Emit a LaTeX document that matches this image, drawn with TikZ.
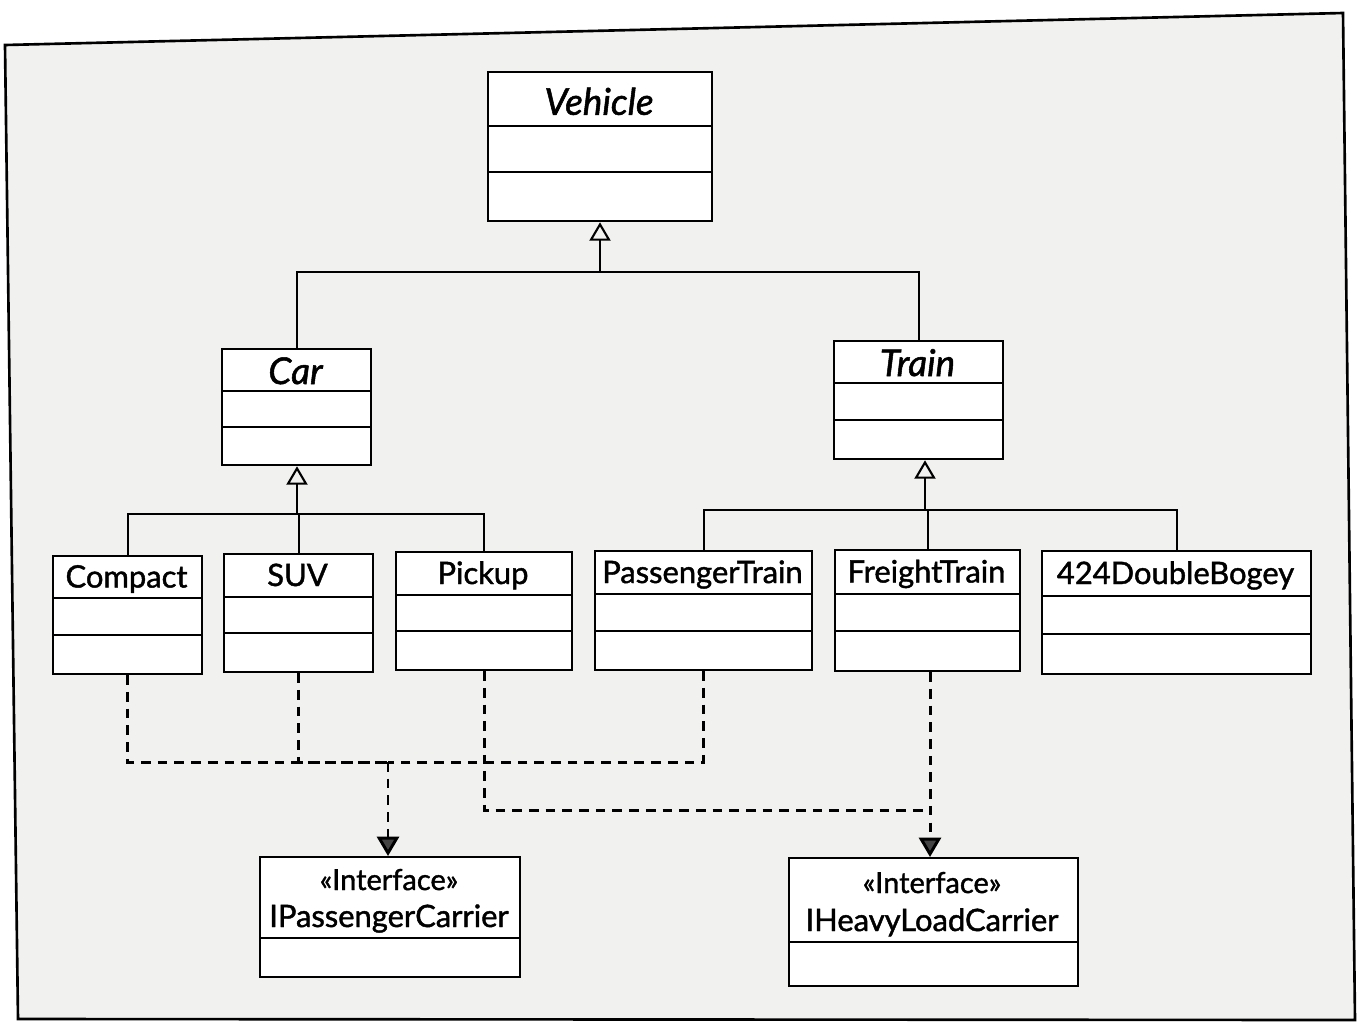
\documentclass[tikz,border=0pt]{standalone}
\usepackage{fontspec}
\setmainfont{Lato}
\newfontfamily\umlfont{Lato}[FakeBold=1.4]
\usetikzlibrary{positioning, arrows.meta, calc}
\definecolor{paperGray}{RGB}{241,241,239}
\definecolor{tipGray}{RGB}{68,68,68}

% class box: name, left, top, right, bottom, divider 1, divider 2, title
\newcommand{\umlClass}[8]{%
  \node[umlbox, anchor=north west, minimum width={(#4-#2)*0.02cm}, minimum height={(#5-#3)*0.02cm}] (#1) at (#2,#3) {};
  \draw[divider] (#2,#6) -- (#4,#6);
  \draw[divider] (#2,#7) -- (#4,#7);
  \node[classname, anchor=base] (#1Name) at ({(#2+#4)/2},{(#3+#6)/2+11}) {#8};}
\newcommand{\abstractFont}{\umlfont\itshape\fontsize{21}{25}\selectfont}

\begin{document}
\begin{tikzpicture}[x=0.02cm, y=-0.02cm,
    umlbox/.style={draw, line width=1.3pt, fill=white, inner sep=0pt},
    divider/.style={line width=1.3pt},
    classname/.style={font=\umlfont\fontsize{17.6}{21}\selectfont, inner sep=0pt},
    genline/.style={line width=1.2pt},
    gen/.style={genline, -{Triangle[open, length=10.5pt, width=12pt]}},
    realline/.style={line width=1.7pt, dash pattern=on 5.5pt off 4pt},
    real/.style={realline, -{Triangle[length=11pt, width=12.5pt, fill=tipGray]}}]
    \useasboundingbox (0,0) rectangle (1366,1022);
    \draw[line width=1.5pt, fill=paperGray] (5,45) -- (1343,13) -- (1355,1020) -- (18,1019) -- cycle;

    % classes
    \umlClass{vehicle}{487}{71}{711}{220}{126}{172}{\abstractFont\raisebox{-3pt}{Vehicle}}
    \umlClass{car}{221}{348}{370}{464}{391}{427}{\abstractFont\raisebox{-2pt}{Car}}
    \umlClass{train}{833}{340}{1002}{458}{383}{420}{\abstractFont\raisebox{-2pt}{Train}}
    \umlClass{compact}{52}{555}{201}{673}{598}{635}{Compact}
    \umlClass{suv}{223}{553}{372}{671}{597}{633}{SUV}
    \umlClass{pickup}{395}{551}{571}{669}{595}{631}{Pickup}
    \umlClass{passTrain}{594}{550}{811}{669}{594}{631}{PassengerTrain}
    \umlClass{freightTrain}{834}{549}{1019}{670}{594}{631}{FreightTrain}
    \umlClass{doubleBogey}{1041}{550}{1310}{673}{596}{634}{424DoubleBogey}

    % interfaces
    \node[umlbox, anchor=north west, minimum width=5.2cm, minimum height=2.4cm] (iPass) at (259,856) {};
    \draw[divider] (259,938) -- (519,938);
    \node[classname, anchor=base, font=\umlfont\fontsize{16.5}{20}\selectfont] (iPassStereo) at (389,890) {«Interface»};
    \node[classname, anchor=base] (iPassName) at (389,927) {IPassengerCarrier};
    \node[umlbox, anchor=north west, minimum width=5.78cm, minimum height=2.56cm] (iHeavy) at (788,857) {};
    \draw[divider] (788,942) -- (1077,942);
    \node[classname, anchor=base, font=\umlfont\fontsize{16.5}{20}\selectfont] (iHeavyStereo) at (932,893) {«Interface»};
    \node[classname, anchor=base] (iHeavyName) at (932,931) {IHeavyLoadCarrier};

    % generalisation
    \coordinate (vehicleBus) at (600,272);
    \coordinate (carBus) at (297,514);
    \coordinate (trainBus) at (925,510);
    \draw[gen] (vehicleBus) -- (vehicleBus |- vehicle.south);
    \draw[genline] (car.north) |- (vehicleBus);
    \draw[genline] (train.north) |- (vehicleBus);
    \draw[gen] (carBus) -- (carBus |- car.south);
    \draw[genline] (compact.north) |- (carBus);
    \draw[genline] (suv.north) |- (carBus);
    \draw[genline] (pickup.north) |- (carBus);
    \draw[gen] (trainBus) -- (trainBus |- train.south);
    \draw[genline] (passTrain.north) |- (trainBus);
    \draw[genline] (freightTrain.north) |- (trainBus);
    \draw[genline] (doubleBogey.north) |- (trainBus);

    % realisation
    \coordinate (passBus) at (388,762);
    \coordinate (heavyBus) at (930,810);
    \draw[realline] (compact.south) |- (passBus);
    \draw[realline] (suv.south) |- (passBus);
    \draw[realline] (passTrain.south) |- (passBus);
    \draw[real] (passBus) -- (passBus |- iPass.north);
    \draw[realline] (pickup.south) |- (heavyBus);
    \draw[real] (freightTrain.south -| heavyBus) -- (heavyBus |- iHeavy.north);
\end{tikzpicture}
\end{document}
